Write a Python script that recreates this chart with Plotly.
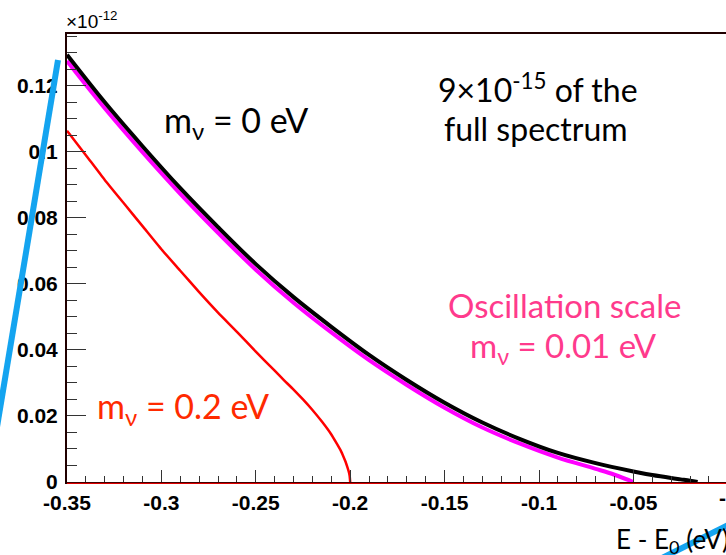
import plotly.graph_objects as go

# ---- data (y in units of 1e-12) ----
x_m0 = [-0.35, -0.33, -0.31, -0.29, -0.27, -0.25, -0.23, -0.21, -0.19, -0.17, -0.15,
        -0.13, -0.11, -0.09, -0.07, -0.05, -0.04, -0.03, -0.025, -0.02, -0.016]
y_m0 = [0.1294, 0.1150, 0.1017, 0.0890, 0.0772, 0.0660, 0.0560, 0.0470, 0.0385, 0.0309, 0.0240,
        0.0180, 0.0130, 0.0088, 0.0057, 0.0032, 0.0021, 0.0012, 0.0008, 0.0004, 0.0]

x_m001 = [-0.35, -0.33, -0.31, -0.29, -0.27, -0.25, -0.23, -0.21, -0.19, -0.17, -0.15,
          -0.13, -0.11, -0.09, -0.07, -0.06, -0.05]
y_m001 = [0.1275, 0.1132, 0.0999, 0.0873, 0.0755, 0.0643, 0.0543, 0.0453, 0.0369, 0.0294, 0.0225,
          0.0165, 0.0116, 0.0074, 0.0040, 0.0022, 0.0]

x_m02 = [-0.35, -0.34, -0.33, -0.32, -0.31, -0.30, -0.29, -0.28, -0.27, -0.26, -0.25,
         -0.24, -0.235, -0.23, -0.225, -0.22, -0.215, -0.21, -0.2075, -0.205, -0.2035,
         -0.2025, -0.2015, -0.2008, -0.2003, -0.200]
y_m02 = [0.1064, 0.0990, 0.0915, 0.0845, 0.0775, 0.0705, 0.0640, 0.0575, 0.0513, 0.0455, 0.0395,
         0.0337, 0.0308, 0.0280, 0.0250, 0.0218, 0.0183, 0.0144, 0.0120, 0.0095, 0.0076,
         0.0062, 0.0045, 0.0032, 0.0019, 0.0]

x_tickvals = [-0.35, -0.30, -0.25, -0.20, -0.15, -0.10, -0.05]
x_ticktext = ["-0.35", "-0.3", "-0.25", "-0.2", "-0.15", "-0.1", "-0.05"]
x_minor = [round(-0.35 + 0.01 * i, 3) for i in range(35)]
y_tickvals = [0, 0.02, 0.04, 0.06, 0.08, 0.10, 0.12]
y_ticktext = ["0", "0.02", "0.04", "0.06", "0.08", "0.1", "0.12"]
y_minor = [round(0.005 * i, 3) for i in range(28)]

LABEL_FONT = "Lato, 'Open Sans', sans-serif"
TICK_FONT = dict(family="Liberation Sans, Arial, sans-serif", size=21, color="black", weight="bold")

fig = go.Figure()
fig.add_trace(go.Scatter(x=x_m001, y=y_m001, mode="lines",
                         line=dict(color="#ff00ff", width=4, shape="spline", smoothing=1.0),
                         showlegend=False))
fig.add_trace(go.Scatter(x=x_m0, y=y_m0, mode="lines",
                         line=dict(color="#000000", width=4, shape="spline", smoothing=1.0),
                         showlegend=False))
fig.add_trace(go.Scatter(x=x_m02, y=y_m02, mode="lines",
                         line=dict(color="#ff0000", width=2.5, shape="spline", smoothing=0.5),
                         showlegend=False))

fig.update_layout(
    width=726, height=555,
    margin=dict(l=67, r=0, t=34, b=73),
    paper_bgcolor="white", plot_bgcolor="white",
    xaxis=dict(range=[-0.35, -0.00095], showgrid=False, zeroline=False,
               showline=True, linecolor="#200000", linewidth=2, mirror=True,
               ticks="inside", ticklen=12, tickcolor="#333", tickwidth=1,
               tickmode="array", tickvals=x_tickvals, ticktext=x_ticktext,
               tickfont=TICK_FONT, ticklabelstandoff=1,
               minor=dict(tickmode="array", tickvals=x_minor, ticks="inside",
                          ticklen=6, tickcolor="#333", tickwidth=1)),
    yaxis=dict(range=[0, 0.1357], showgrid=False, zeroline=False,
               showline=True, linecolor="#200000", linewidth=2,
               ticks="inside", ticklen=19, tickcolor="#333", tickwidth=1,
               tickmode="array", tickvals=y_tickvals, ticktext=y_ticktext,
               tickfont=TICK_FONT, ticklabelstandoff=3,
               minor=dict(tickmode="array", tickvals=y_minor, ticks="inside",
                          ticklen=10, tickcolor="#333", tickwidth=1)),
)

# red line hugging the bottom axis
fig.add_shape(type="line", xref="paper", yref="paper", x0=0, x1=1.01, y0=-0.003, y1=-0.003,
              line=dict(color="#ff0000", width=1))

def px2paper(px, py):
    return (px - 67) / 659.0, (482 - py) / 448.0

# blue hand-drawn strokes
bx0, by0 = px2paper(58, 60)
bx1, by1 = px2paper(-6, 445)
fig.add_shape(type="line", xref="paper", yref="paper", x0=bx0, y0=by0, x1=bx1, y1=by1,
              line=dict(color="#14a4f0", width=6))
cx0, cy0 = px2paper(662, 558)
cx1, cy1 = px2paper(730, 524)
fig.add_shape(type="line", xref="paper", yref="paper", x0=cx0, y0=cy0, x1=cx1, y1=cy1,
              line=dict(color="#14a4f0", width=6))

def ann(text, px, py, size, color="black", xanchor="left", family=LABEL_FONT, weight="normal"):
    x, y = px2paper(px, py)
    fig.add_annotation(text=text, x=x, y=y, xref="paper", yref="paper",
                       xanchor=xanchor, yanchor="middle", showarrow=False,
                       font=dict(family=family, size=size, color=color, weight=weight))

ann("×10<sup>-12</sup>", 64, 20, 19, family="Liberation Sans, Arial, sans-serif")
ann("m<sub>ν</sub> = 0 eV", 162, 122, 34)
ann("9×10<sup>-15</sup> of the", 436, 88, 32)
ann("full spectrum", 442, 128, 32)
ann("Oscillation scale", 446, 305, 33, color="#ff3a8c")
ann("m<sub>ν</sub> = 0.01 eV", 468, 347, 33, color="#ff3a8c")
ann("m<sub>ν</sub> = 0.2 eV", 95, 408, 34, color="#ff2a00")
ann("E - E<sub>0</sub> (eV)", 614, 540, 26)

# cut-off tick label at 0 (only its minus sign falls inside the picture)
ann("-0", 728, 497, 21, xanchor="center",
    family="Liberation Sans, Arial, sans-serif", weight="bold")

fig.write_html("out.html", config={"displayModeBar": False},
               post_script="document.body.style.margin='0';document.body.style.overflow='hidden';")
